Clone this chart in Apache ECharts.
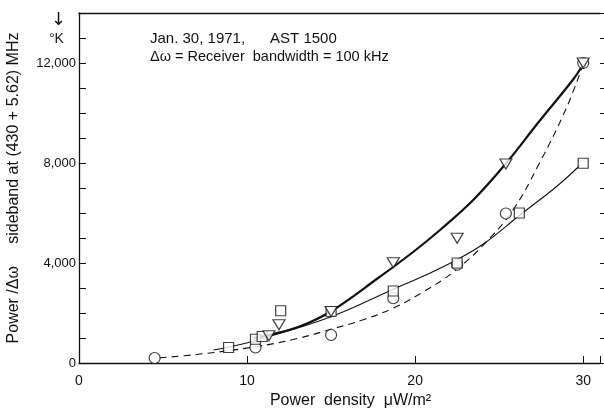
<!DOCTYPE html>
<html>
<head>
<meta charset="utf-8">
<script src="https://cdn.jsdelivr.net/npm/echarts@6/dist/echarts.min.js"></script>
<style>
  html, body { margin: 0; padding: 0; background: #fff; }
  #chart { width: 604px; height: 411px; }
</style>
</head>
<body>
<div id="chart"></div>
<script>
// measured points, [power density, power/bandwidth]
var triangles = [[11.3, 1090], [11.9, 1530], [15.0, 2060], [18.7, 4010], [22.5, 4990], [25.4, 7960], [30.0, 12000]];
var squares = [[8.9, 620], [10.5, 950], [10.9, 1060], [12.0, 2090], [15.0, 2060], [18.7, 2880], [22.5, 4000], [26.2, 6000], [30.0, 7990]];
var circles = [[4.5, 200], [10.5, 620], [15.0, 1120], [18.7, 2590], [22.5, 3930], [25.4, 5980], [30.0, 12000]];

// curves
var thickCurve = [[10.4, 1000], [11.3, 1120], [13.2, 1480], [15.0, 2070], [17.9, 3450], [19.9, 4450], [21.5, 5330], [23.5, 6550], [25.4, 7980], [27.4, 9680], [29.4, 11340], [30.0, 11950]];
var thinCurve = [[8.0, 520], [8.9, 640], [10.5, 900], [15.0, 1850], [18.7, 2950], [20.5, 3480], [22.4, 4100], [24.1, 4780], [26.2, 5900], [28.4, 7050], [29.8, 7900]];
var dashCurve = [[4.8, 210], [7.0, 340], [10.5, 650], [13.0, 980], [15.0, 1350], [17.0, 1750], [18.7, 2200], [20.5, 2850], [22.3, 3650], [24.1, 4750], [25.8, 6100], [27.4, 8000], [29.0, 10200], [30.0, 11950]];

var yLabels = [0, 4000, 8000, 12000];

var font = 'Liberation Sans';
var chart = echarts.init(document.getElementById('chart'));

function fmt(v) {
  if (yLabels.indexOf(v) < 0) return '';
  return v.toString().replace(/\B(?=(\d{3})+(?!\d))/g, ',');
}

var mark = {
  color: '#fff',
  borderColor: '#111',
  borderWidth: 1.2
};

chart.setOption({
  animation: false,
  backgroundColor: '#fff',
  grid: { left: 79, right: 4, top: 13, bottom: 48, outerBoundsMode: 'none' },
  xAxis: [{
    type: 'value',
    min: 0,
    max: 31,
    interval: 10,
    name: 'Power  density  μW/m²',
    nameLocation: 'middle',
    nameGap: 28,
    nameTextStyle: { fontFamily: font, fontSize: 16, color: '#111', padding: [0, 0, 0, 22] },
    axisLine: { onZero: false, lineStyle: { color: '#111', width: 1.3 } },
    axisTick: { inside: true, length: 7, lineStyle: { color: '#111' } },
    axisLabel: {
      fontFamily: font, fontSize: 14, color: '#111', margin: 11,
      formatter: function (v) { return v > 30 ? '' : v; }
    },
    splitLine: { show: false }
  }, {
    type: 'value',
    position: 'top',
    min: 0,
    max: 31,
    interval: 10,
    axisLine: { onZero: false, lineStyle: { color: '#111', width: 1.3 } },
    axisTick: { show: false },
    axisLabel: { show: false },
    splitLine: { show: false }
  }],
  yAxis: [{
    type: 'value',
    min: 0,
    max: 14000,
    interval: 1000,
    name: 'Power /Δω     sideband at (430 + 5.62) MHz',
    nameLocation: 'middle',
    nameGap: 57,
    nameRotate: 90,
    nameTextStyle: { fontFamily: font, fontSize: 16, color: '#111' },
    axisLine: { show: true, onZero: false, lineStyle: { color: '#111', width: 1.3 } },
    axisTick: { inside: true, length: 7, lineStyle: { color: '#111' } },
    axisLabel: { fontFamily: font, fontSize: 13, color: '#111', margin: 3, formatter: fmt },
    splitLine: { show: false }
  }, {
    type: 'value',
    position: 'right',
    min: 0,
    max: 14000,
    interval: 1000,
    axisLine: { show: false, onZero: false },
    axisTick: { show: true, inside: false, length: 5, lineStyle: { color: '#111' } },
    axisLabel: { show: false },
    splitLine: { show: false }
  }],
  graphic: [
    { type: 'text', left: 150, top: 31, style: { text: 'Jan. 30, 1971,      AST 1500', fontFamily: font, fontSize: 15, fill: '#111' } },
    { type: 'text', left: 150, top: 49, style: { text: 'Δω = Receiver  bandwidth = 100 kHz', fontFamily: font, fontSize: 14.5, fill: '#111' } },
    { type: 'text', left: 51, top: 11, style: { text: '↓', fontFamily: 'DejaVu Sans', fontSize: 18, fill: '#111' } },
    { type: 'text', left: 49, top: 32, style: { text: '°K', fontFamily: font, fontSize: 14, fill: '#111' } }
  ],
  series: [{
    type: 'line',
    data: thickCurve,
    smooth: 0.4,
    showSymbol: false,
    lineStyle: { color: '#111', width: 2.2 }
  }, {
    type: 'line',
    data: thinCurve,
    smooth: 0.4,
    showSymbol: false,
    lineStyle: { color: '#111', width: 1.1 }
  }, {
    type: 'line',
    data: dashCurve,
    smooth: 0.4,
    showSymbol: false,
    lineStyle: { color: '#111', width: 1.1, type: [7, 5] }
  }, {
    type: 'scatter',
    data: circles,
    symbol: 'circle',
    symbolSize: 11,
    itemStyle: mark,
    z: 5
  }, {
    type: 'scatter',
    data: squares,
    symbol: 'rect',
    symbolSize: 10,
    itemStyle: mark,
    z: 6
  }, {
    type: 'scatter',
    data: triangles,
    symbol: 'triangle',
    symbolRotate: 180,
    symbolSize: [12, 10],
    itemStyle: mark,
    z: 7
  }]
});
</script>
</body>
</html>
